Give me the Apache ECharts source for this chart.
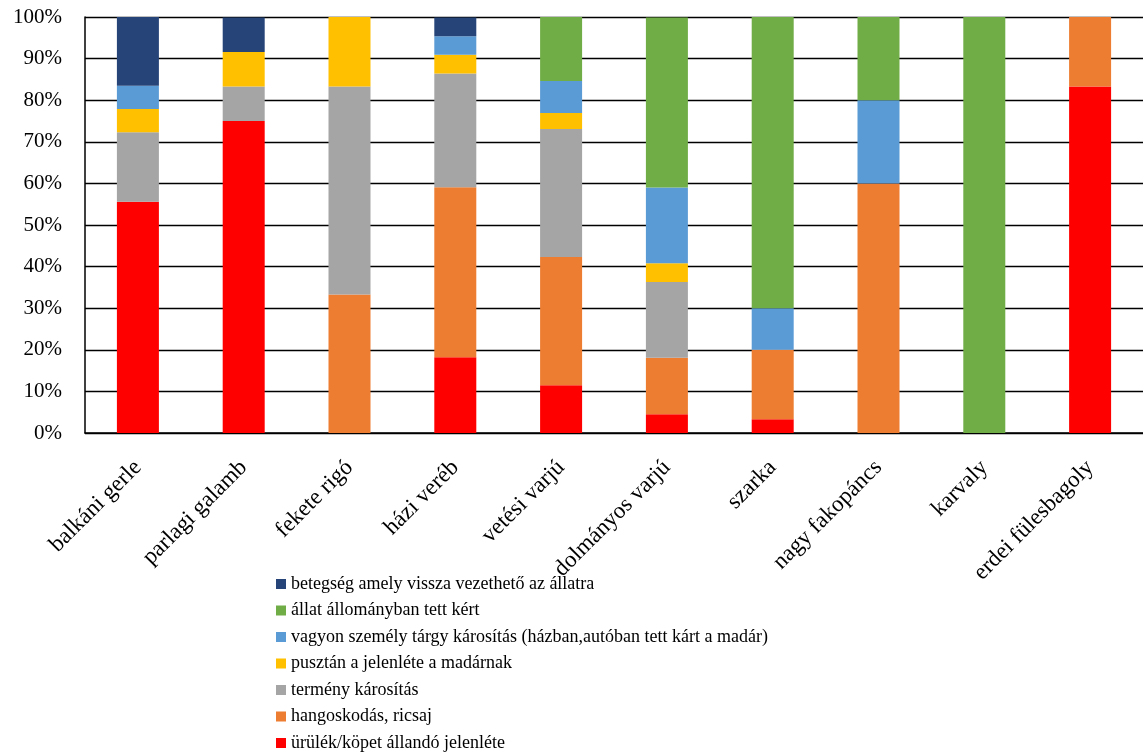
<!DOCTYPE html>
<html>
<head>
<meta charset="utf-8">
<script src="https://cdn.jsdelivr.net/npm/echarts@6/dist/echarts.min.js"></script>
<style>
  html, body { margin: 0; padding: 0; background: #fff; }
  #chart { width: 1143px; height: 755px; }
</style>
</head>
<body>
<div id="chart"></div>
<script>
  const categories = ['balkáni gerle', 'parlagi galamb', 'fekete rigó', 'házi veréb', 'vetési varjú',
    'dolmányos varjú', 'szarka', 'nagy fakopáncs', 'karvaly', 'erdei fülesbagoly'];

  // values in percent, bottom to top of each bar
  const urulek    = [55.6, 75.0, 0,    18.2, 11.5, 4.5,  3.3,  0,  0,   83.3];
  const hangos    = [0,    0,    33.3, 40.9, 30.8, 13.6, 16.7, 60, 0,   16.7];
  const termeny   = [16.7, 8.3,  50.0, 27.3, 30.8, 18.2, 0,    0,  0,   0];
  const puszta    = [5.6,  8.3,  16.7, 4.5,  3.8,  4.5,  0,    0,  0,   0];
  const vagyon    = [5.6,  0,    0,    4.5,  7.7,  18.2, 10.0, 20, 0,   0];
  const allomany  = [0,    0,    0,    0,    15.4, 40.9, 70.0, 20, 100, 0];
  const betegseg  = [16.7, 8.3,  0,    4.5,  0,    0,    0,    0,  0,   0];

  const yTicks = [0, 10, 20, 30, 40, 50, 60, 70, 80, 90, 100];

  const seriesDefs = [
    { name: 'ürülék/köpet állandó jelenléte', data: urulek, color: '#FF0000' },
    { name: 'hangoskodás, ricsaj', data: hangos, color: '#ED7D31' },
    { name: 'termény károsítás', data: termeny, color: '#A5A5A5' },
    { name: 'pusztán a jelenléte a madárnak', data: puszta, color: '#FFC000' },
    { name: 'vagyon személy tárgy károsítás (házban,autóban tett kárt a madár)', data: vagyon, color: '#5B9BD5' },
    { name: 'állat állományban tett kért', data: allomany, color: '#70AD47' },
    { name: 'betegség amely vissza vezethető az állatra', data: betegseg, color: '#264478' }
  ];

  const font = '"Liberation Serif", "Times New Roman", serif';
  const myChart = echarts.init(document.getElementById('chart'));
  const option = {
    animation: false,
    textStyle: { fontFamily: font },
    grid: { left: 85, top: 17, width: 1060, height: 416, containLabel: false },
    legend: {
      orient: 'vertical',
      left: 271,
      top: 568,
      height: 187,
      itemWidth: 10,
      itemHeight: 10,
      itemGap: 4.5,
      icon: 'rect',
      data: seriesDefs.map(s => s.name).reverse(),
      textStyle: { fontFamily: font, fontSize: 18, color: '#000', lineHeight: 22 }
    },
    xAxis: {
      type: 'category',
      data: categories,
      axisLine: { lineStyle: { color: '#000', width: 1.5 } },
      axisTick: { show: false },
      axisLabel: { rotate: 45, margin: 31, interval: 0, fontFamily: font, fontSize: 23, color: '#000' }
    },
    yAxis: {
      type: 'value',
      min: 0,
      max: 100,
      interval: 10,
      axisLine: { show: true, lineStyle: { color: '#000', width: 1.5 } },
      axisTick: { show: false },
      splitLine: { lineStyle: { color: '#000', width: 1.4 } },
      axisLabel: {
        margin: 23,
        fontFamily: font,
        fontSize: 21,
        color: '#000',
        formatter: v => yTicks.indexOf(v) >= 0 ? v + '%' : ''
      }
    },
    series: seriesDefs.map(s => ({
      name: s.name,
      type: 'bar',
      stack: 'total',
      barWidth: 42,
      data: s.data,
      itemStyle: { color: s.color }
    }))
  };
  myChart.setOption(option);
</script>
</body>
</html>
